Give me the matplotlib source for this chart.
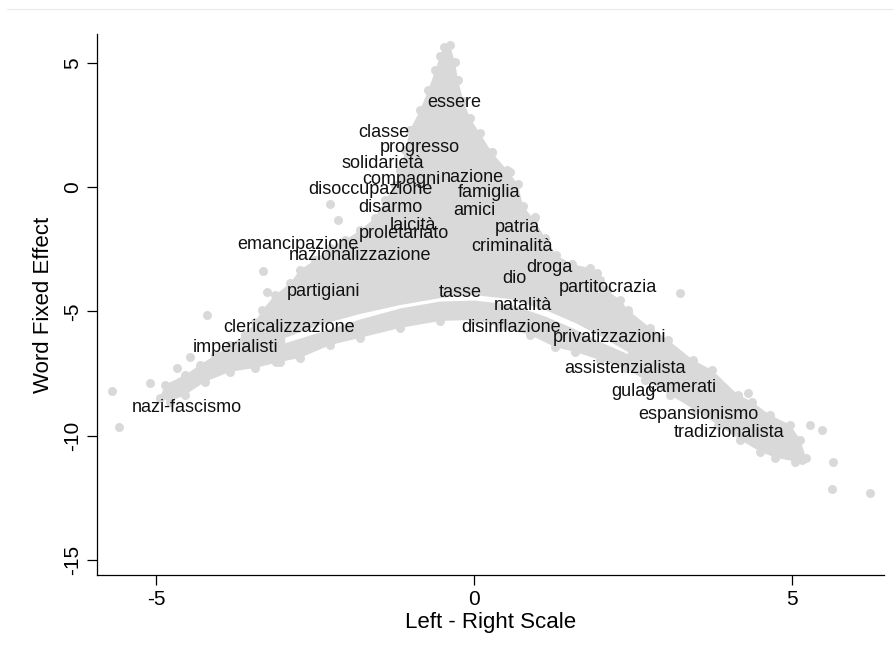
import numpy as np
import matplotlib.pyplot as plt
from matplotlib.lines import Line2D

plt.rcParams['font.family'] = ['Liberation Sans', 'DejaVu Sans']
plt.rcParams['axes.unicode_minus'] = False

# outline of the dense word cloud (left-right score, word fixed effect)
cloud_x = [-0.47, -0.38, -0.30, -0.25, -0.17, -0.06, 0.09, 0.28, 0.52, 0.69,
           0.77, 0.94, 1.12, 1.29, 1.54, 1.82, 1.98, 2.09, 2.30, 2.42,
           2.77, 3.05, 3.44, 3.74, 4.15, 4.37, 4.65, 4.97, 5.13, 5.22,
           5.05, 4.73, 4.50, 4.18, 3.84, 3.47, 3.08, 2.69, 2.37, 1.98,
           1.59, 1.27, 0.88, 0.41, 0.00, -0.53, -1.16, -1.79, -2.26, -2.74,
           -3.05, -3.44, -3.84, -4.23, -4.54, -4.78, -4.94, -4.86, -4.54, -4.31,
           -4.07, -3.84, -3.60, -3.44, -3.33, -3.13, -2.89, -2.74, -2.50, -2.26,
           -2.03, -1.79, -1.56, -1.40, -1.24, -1.16, -1.08, -1.01, -0.85, -0.72,
           -0.61, -0.53]
cloud_y = [5.66, 5.74, 5.02, 4.30, 3.49, 2.77, 2.17, 1.41, 0.68, 0.12,
           -0.76, -1.29, -2.05, -2.73, -3.09, -3.25, -3.73, -4.14, -4.54, -4.94,
           -5.66, -6.14, -6.95, -7.35, -8.35, -8.63, -9.16, -9.56, -10.16, -10.88,
           -11.04, -10.88, -10.64, -10.16, -9.56, -8.96, -8.35, -7.75, -7.27, -6.95,
           -6.63, -6.43, -5.94, -5.62, -5.34, -5.38, -5.66, -6.06, -6.35, -6.87,
           -7.03, -7.27, -7.43, -7.83, -8.35, -8.63, -8.47, -7.95, -7.55, -7.15,
           -6.75, -6.35, -5.94, -5.42, -4.94, -4.34, -3.86, -3.33, -2.93, -2.45,
           -2.13, -1.73, -1.24, -0.52, 0.08, 0.68, 1.49, 2.29, 3.09, 3.90,
           4.70, 5.30]

# empty arc between the main cloud and the lower band
gap_x = [-2.97, -2.42, -1.79, -1.16, -0.53, 0.00, 0.57, 1.12, 1.59, 1.98, 2.42,
         2.42, 1.98, 1.59, 1.12, 0.57, 0.00, -0.53, -1.16, -1.79, -2.42, -2.97]
gap_y = [-6.06, -5.54, -5.10, -4.74, -4.46, -4.34, -4.50, -4.94, -5.46, -5.98, -6.63,
         -6.72, -6.22, -5.72, -5.20, -4.72, -4.56, -4.60, -4.88, -5.32, -5.84, -6.28]

# scattered words outside the dense cloud
out_x = [-5.69, -5.58, -5.09, -4.67, -4.47, -4.20, -3.32, -3.25, -2.26, -2.14,
         0.28, 0.57, 0.75, 0.96, 1.93, 2.42, 3.24, 4.31, 5.28, 5.47,
         5.64, 5.63, 6.23, 5.08, 5.16, -3.11]
out_y = [-8.19, -9.64, -7.87, -7.27, -6.83, -5.14, -3.37, -4.22, -0.68, -1.33,
         1.41, 0.60, -0.84, -1.20, -3.45, -5.02, -4.26, -8.27, -9.56, -9.76,
         -11.04, -12.13, -12.29, -10.48, -10.96, -7.03]

words = ['essere', 'classe', 'progresso', 'solidarietà', 'compagni', 'nazione',
         'disoccupazione', 'famiglia', 'disarmo', 'amici', 'laicità', 'proletariato',
         'patria', 'criminalità', 'emancipazione', 'nazionalizzazione', 'droga', 'dio',
         'partitocrazia', 'tasse', 'partigiani', 'natalità', 'disinflazione',
         'privatizzazioni', 'clericalizzazione', 'imperialisti', 'nazi-fascismo',
         'assistenzialista', 'gulag', 'camerati', 'espansionismo', 'tradizionalista']
word_x = [-0.74, -1.82, -1.48, -2.09, -1.76, -0.53,
          -2.61, -0.25, -1.82, -0.33, -1.32, -1.82,
          0.33, -0.05, -3.73, -2.91, 0.82, 0.44,
          1.34, -0.55, -2.94, 0.31, -0.20,
          1.24, -3.95, -4.42, -5.38,
          1.42, 2.15, 2.72, 2.59, 3.14]
word_y = [3.41, 2.21, 1.61, 0.96, 0.32, 0.40,
          -0.08, -0.20, -0.80, -0.92, -1.53, -1.85,
          -1.61, -2.37, -2.29, -2.73, -3.25, -3.69,
          -4.02, -4.22, -4.18, -4.74, -5.66,
          -6.06, -5.66, -6.43, -8.88,
          -7.31, -8.23, -8.07, -9.16, -9.88]

grey = '#d9d9d9'

fig = plt.figure(figsize=(8.94, 6.57), dpi=100)
ax = fig.add_axes([0.1085, 0.125, 0.8805, 0.823])

ax.fill(cloud_x, cloud_y, color=grey, lw=0, zorder=1)
ax.scatter(cloud_x, cloud_y, s=42, color=grey, lw=0, zorder=1)
ax.fill(gap_x, gap_y, color='white', lw=0, zorder=2)
ax.scatter(out_x, out_y, s=42, color=grey, lw=0, zorder=1)

for w, x, y in zip(words, word_x, word_y):
    ax.text(x, y, w, fontsize=13, ha='left', va='center', color='#111111', zorder=3)

ax.set_xlim(-5.93, 6.45)
ax.set_ylim(-15.6, 6.16)
ax.set_xticks([-5, 0, 5])
ax.set_yticks([5, 0, -5, -10, -15])
ax.set_yticklabels(['5', '0', '-5', '-10', '-15'], rotation=90, va='center')
ax.tick_params(labelsize=15, length=7, width=0.9, direction='out', pad=4)
for side in ['top', 'right']:
    ax.spines[side].set_visible(False)
for side in ['left', 'bottom']:
    ax.spines[side].set_linewidth(0.9)

ax.set_xlabel('Left - Right Scale', fontsize=16, labelpad=2)
ax.set_ylabel('Word Fixed Effect', fontsize=16, labelpad=6)

fig.add_artist(Line2D([0.008, 1.0], [0.986, 0.986], color='#ebebeb', lw=0.8))

fig.savefig('out.png', dpi=100)
